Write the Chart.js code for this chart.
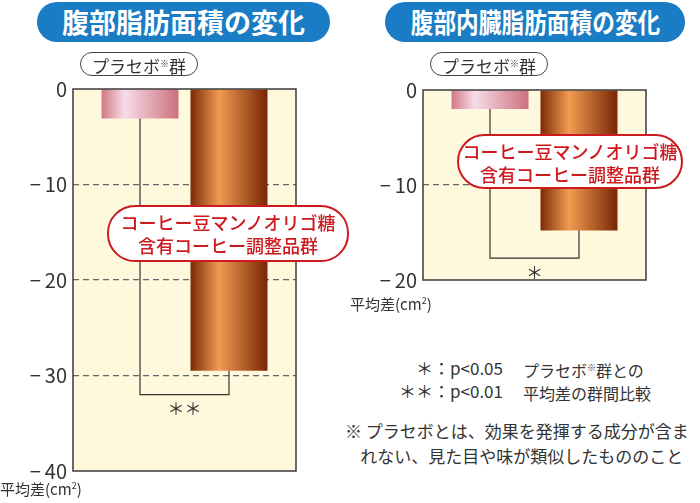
<!DOCTYPE html>
<html>
<head>
<meta charset="utf-8">
<script src="https://cdn.jsdelivr.net/npm/chart.js@4"></script>
<style>
  body { margin: 0; background: #fff; font-family: "Noto Sans CJK JP", "Noto Sans", sans-serif; color: #333; }
  #wrap { position: relative; width: 700px; height: 503px; overflow: hidden; }
  canvas { position: absolute; }
  .pill { position: absolute; height: 40px; background: #1a7cc4; border-radius: 20px; color: #fff;
          font-weight: bold; font-size: 27px; line-height: 40px; text-align: center; white-space: nowrap; }
  .pill span { display: inline-block; }
  .tag { position: absolute; height: 22px; border: 1.5px solid #444; border-radius: 12px; background: #fff;
         font-size: 17px; line-height: 22px; text-align: center; white-space: nowrap; color: #333; }
  .tag sup, .note sup { font-size: 9px; vertical-align: 6px; }
  .red { position: absolute; border: 2px solid #cc1a1f; border-radius: 28px; background: #fff; color: #cc1a1f;
         font-size: 18px; font-weight: 500; line-height: 23px; text-align: center; white-space: nowrap; padding-top: 4px; box-sizing: border-box; }
  .note { position: absolute; font-size: 16px; line-height: 23px; white-space: nowrap; color: #333; }
  .unit { position: absolute; font-size: 15px; white-space: nowrap; color: #333; }
</style>
</head>
<body>
<div id="wrap">
  <canvas id="fat" width="300" height="420" style="left:0;top:70px"></canvas>
  <canvas id="visceral" width="300" height="230" style="left:350px;top:70px"></canvas>

  <div class="pill" style="left:37px;top:2px;width:293px"><span>腹部脂肪面積の変化</span></div>
  <div class="pill" style="left:385px;top:2px;width:300px"><span style="transform:scaleX(0.84)">腹部内臓脂肪面積の変化</span></div>

  <div class="tag" style="left:80px;top:52px;width:116px">プラセボ<sup>※</sup>群</div>
  <div class="tag" style="left:430px;top:52px;width:116px">プラセボ<sup>※</sup>群</div>

  <div class="red" style="left:107px;top:205px;width:242px;height:57px">コーヒー豆マンノオリゴ糖<br>含有コーヒー調整品群</div>
  <div class="red" style="left:457px;top:134px;width:226px;height:55px">コーヒー豆マンノオリゴ糖<br>含有コーヒー調整品群</div>

  <div class="unit" style="left:0;top:478px">平均差(cm<sup style="font-size:9px">2</sup>)</div>
  <div class="unit" style="left:350px;top:293px">平均差(cm<sup style="font-size:9px">2</sup>)</div>

  <div class="note" style="right:197px;top:356px;text-align:right;font-size:17px">＊：p&lt;0.05<br>＊＊：p&lt;0.01</div>
  <div class="note" style="left:523px;top:356px">プラセボ<sup>※</sup>群との<br>平均差の群間比較</div>
  <div class="note" style="left:345px;top:418px;font-size:17px;line-height:25px">※ プラセボとは、効果を発揮する成分が含ま<br>&nbsp;&nbsp;&nbsp;&nbsp;れない、見た目や味が類似したもののこと</div>
</div>

<script>
// groups (one bar each), in drawing order
const groups = ["プラセボ※群", "コーヒー豆マンノオリゴ糖含有コーヒー調整品群"];
// mean change from baseline, cm2
const fatArea = [-3.1, -29.5];
const visceralArea = [-2.0, -14.8];
// y axis ticks
const fatTicks = [0, -10, -20, -30, -40];
const visceralTicks = [0, -10, -20];
// significance marks
const fatStars = "＊＊";
const visceralStars = "＊";

const gradStops = [
    [[0, "#cf7882"], [0.3, "#f7dce8"], [1, "#cb717b"]],
    [[0, "#7c2a06"], [0.37, "#f29b52"], [1, "#782605"]]
];

const plotBox = {
    id: "plotBox",
    beforeDraw(chart) {
        const a = chart.chartArea, c = chart.ctx;
        c.save();
        c.fillStyle = "#fef9dc";
        c.fillRect(a.left, a.top, a.right - a.left, a.bottom - a.top);
        c.restore();
    },
    beforeDatasetsDraw(chart) {
        chart.data.datasets.forEach((ds, i) => {
            chart.getDatasetMeta(i).data.forEach(bar => {
                const g = chart.ctx.createLinearGradient(bar.x - bar.width / 2, 0, bar.x + bar.width / 2, 0);
                gradStops[i].forEach(s => g.addColorStop(s[0], s[1]));
                bar.options.backgroundColor = g;
            });
        });
    },
    afterDatasetsDraw(chart, args, opts) {
        const a = chart.chartArea, c = chart.ctx, y = chart.scales.y;
        const p = chart.getDatasetMeta(0).data[0], q = chart.getDatasetMeta(1).data[0];
        const low = y.getPixelForValue(opts.level);
        c.save();
        c.strokeStyle = "#333";
        c.lineWidth = 1.2;
        c.beginPath();
        c.moveTo(p.x, p.y);
        c.lineTo(p.x, low);
        c.lineTo(q.x, low);
        c.lineTo(q.x, q.y);
        c.stroke();
        c.fillStyle = "#333";
        c.font = "17px 'Noto Sans CJK JP'";
        c.textAlign = "center";
        c.textBaseline = "middle";
        c.fillText(opts.stars, (p.x + q.x) / 2, low + 14);
        c.strokeStyle = "#3a3a3a";
        c.lineWidth = 1.5;
        c.strokeRect(a.left, a.top, a.right - a.left, a.bottom - a.top);
        c.restore();
    }
};

function makeChart(id, values, ticks, stars, level, padTop, padBottom) {
    const lo = Math.min(...ticks);
    new Chart(document.getElementById(id), {
        type: "bar",
        data: {
            labels: [""],
            datasets: groups.map((g, i) => ({
                label: g,
                data: [values[i]],
                backgroundColor: gradStops[i][1][1],
                borderWidth: 0
            }))
        },
        options: {
            responsive: false,
            animation: false,
            categoryPercentage: 0.798,
            barPercentage: 0.865,
            layout: { padding: { top: padTop, bottom: padBottom, right: 4, left: 0 } },
            plugins: {
                legend: { display: false },
                tooltip: { enabled: false },
                plotBox: { level: level, stars: stars }
            },
            scales: {
                x: { display: false },
                y: {
                    min: lo, max: 0,
                    afterFit(s) { s.width = 73; },
                    afterBuildTicks(s) { s.ticks = ticks.map(v => ({ value: v })); },
                    border: { display: false, dash: [6, 4] },
                    grid: {
                        drawTicks: false,
                        color: c => (c.tick && (c.tick.value === 0 || c.tick.value === lo)) ? "rgba(0,0,0,0)" : "#666",
                        lineWidth: 1.2
                    },
                    ticks: {
                        padding: 6,
                        color: "#333",
                        font: { family: "'Noto Sans CJK JP'", size: 20 },
                        callback: v => v === 0 ? "0" : "−\u2009" + Math.abs(v)
                    }
                }
            }
        },
        plugins: [plotBox]
    });
}

makeChart("fat", fatArea, fatTicks, fatStars, -32.0, 19, 19);
makeChart("visceral", visceralArea, visceralTicks, visceralStars, -17.7, 20, 20);
</script>
</body>
</html>
